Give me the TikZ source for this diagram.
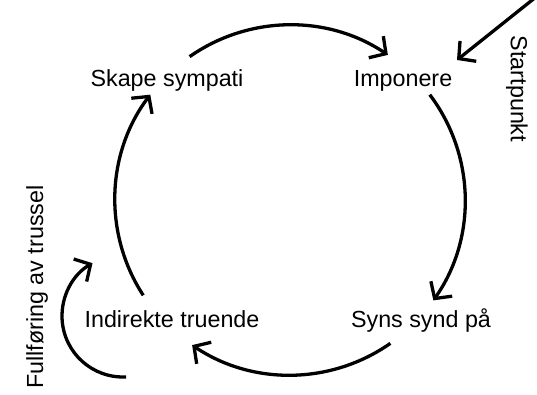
\documentclass[tikz,border=0pt]{standalone}
\usepackage{fontspec}
\setmainfont{Liberation Sans}
\usetikzlibrary{arrows.meta}
\begin{document}
\begin{tikzpicture}[x=1pt,y=1pt,
  lbl/.style={font=\fontsize{23.3}{27}\selectfont, inner sep=0pt},
  arr/.style={line width=3.3pt, -{Straight Barb[length=12pt,width=26pt,line join=miter]}}]
\clip (0,0) rectangle (537,394);
\fill[white] (0,0) rectangle (537,394);
\coordinate (c) at (290,194);
\node[lbl, anchor=base] (skape) at (167,307) {Skape sympati};
\node[lbl, anchor=base] (imp) at (403,307) {Imponere};
\node[lbl, anchor=base] (ind) at (172,67) {Indirekte truende};
\node[lbl, anchor=base] (syns) at (421,67) {Syns synd på};
\node[lbl, rotate=-90] (start) at (517,305) {Startpunkt};
\node[lbl, rotate=90] (full) at (37,107) {Fullføring av trussel};
\draw[arr] ([shift={(125:175)}]c) arc[start angle=125, end angle=56, radius=175];
\draw[arr] ([shift={(37:175)}]c) arc[start angle=37, end angle=-35, radius=175];
\draw[arr] ([shift={(-55:175)}]c) arc[start angle=-55, end angle=-124, radius=175];
\draw[arr] ([shift={(-147:175)}]c) arc[start angle=-147, end angle=-217, radius=175];
\coordinate (c2) at (123,78);
\draw[arr] ([shift={(-87:61)}]c2) arc[start angle=-87, end angle=-240, radius=61];
\coordinate (sp) at (541,401);
\coordinate (spend) at (457,334);
\draw[arr] (sp) -- (spend);
\end{tikzpicture}
\end{document}
